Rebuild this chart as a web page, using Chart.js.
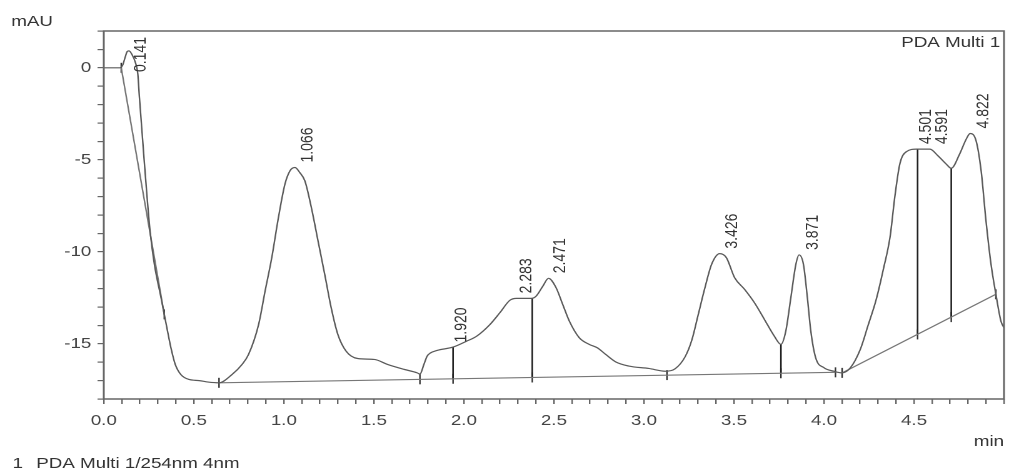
<!DOCTYPE html>
<html>
<head>
<meta charset="utf-8">
<script src="https://cdn.jsdelivr.net/npm/chart.js"></script>
<style>
  html, body { margin: 0; padding: 0; background: #fff; overflow: hidden; }
  #wrap {
    position: absolute; left: 0; top: 0;
    width: 811px; height: 472px;
    transform: scaleX(1.2503); transform-origin: 0 0;
  }
</style>
</head>
<body>
<div id="wrap"><canvas id="chrom"></canvas></div>
<script>
// trace (time in min, signal in mAU)
const traceTimes = [0.000, 0.090, 0.105, 0.118, 0.130, 0.140, 0.155, 0.175, 0.189, 0.198, 0.226, 0.257, 0.281, 0.318, 0.336, 0.354, 0.373, 0.397, 0.428, 0.474, 0.530, 0.580, 0.640,
  0.712, 0.768, 0.804, 0.860, 0.896, 0.933, 0.970, 1.006, 1.034, 1.062, 1.089, 1.117, 1.153, 1.190, 1.227, 1.263, 1.300, 1.346, 1.410, 1.502, 1.576, 1.668, 1.741, 1.756,
  1.778, 1.796, 1.814, 1.851, 1.940, 2.017, 2.072, 2.145, 2.200, 2.255, 2.292, 2.375, 2.402, 2.439, 2.470, 2.512, 2.549, 2.586, 2.641, 2.696, 2.742, 2.788, 2.843, 2.916,
  3.027, 3.118, 3.174, 3.229, 3.266, 3.302, 3.339, 3.376, 3.421, 3.458, 3.504, 3.559, 3.614, 3.669, 3.724, 3.761, 3.788, 3.816, 3.844, 3.862, 3.886, 3.908, 3.927, 3.954,
  4.000, 4.055, 4.101, 4.147, 4.202, 4.245, 4.290, 4.331, 4.367, 4.395, 4.422, 4.459, 4.514, 4.588, 4.634, 4.680, 4.707, 4.753, 4.790, 4.812, 4.845, 4.873, 4.900, 4.928,
  4.955, 4.983, 5.000];
const traceValues = [0.00, 0.00, 0.15, 0.55, 0.88, 0.92, 0.75, 0.30, -0.34, -1.62, -5.24, -8.87, -10.68, -12.50, -13.40, -14.31, -15.22, -16.12, -16.67, -16.94, -17.00, -17.08, -17.12,
  -16.67, -16.12, -15.58, -13.95, -12.13, -10.32, -8.14, -6.33, -5.60, -5.42, -5.70, -6.15, -7.60, -9.41, -11.22, -13.04, -14.49, -15.40, -15.80, -15.85, -16.12, -16.39, -16.58, -16.65,
  -16.12, -15.67, -15.50, -15.36, -15.18, -14.85, -14.58, -13.95, -13.31, -12.64, -12.53, -12.53, -12.40, -11.86, -11.44, -11.95, -12.86, -13.77, -14.67, -15.03, -15.22, -15.58, -15.98, -16.21,
  -16.34, -16.49, -16.35, -15.70, -14.80, -13.40, -11.95, -10.68, -10.10, -10.32, -11.41, -12.04, -12.77, -13.67, -14.58, -15.03, -14.31, -12.50, -10.68, -10.17, -10.68, -12.50, -14.31, -15.76,
  -16.30, -16.49, -16.58, -16.30, -15.30, -14.00, -12.60, -10.90, -9.20, -6.90, -5.20, -4.55, -4.42, -4.42, -4.79, -5.24, -5.46, -4.70, -3.88, -3.57, -3.97, -5.60, -8.32, -10.68,
  -12.31, -13.77, -14.13];

// integration baselines
const baseStart = [0.097, 0.640, 4.101];
const baseStartVal = [0.00, -17.12, -16.58];
const baseEnd = [0.336, 4.064, 4.955];
const baseEndVal = [-13.40, -16.55, -12.31];

// perpendicular drop lines
const dropTimes = [1.940, 2.380, 3.761, 4.520, 4.707];
const dropTop = [-15.18, -12.53, -15.03, -4.42, -5.46];
const dropBottom = [-16.90, -16.83, -16.60, -14.49, -13.55];

// peak start / end marks
const markTimes = [0.097, 0.336, 0.640, 1.756, 1.940, 2.380, 3.128, 3.761, 4.064, 4.101, 4.520, 4.707, 4.955];
const markValues = [0.00, -13.40, -17.12, -16.93, -16.90, -16.83, -16.70, -16.60, -16.55, -16.58, -14.49, -13.55, -12.31];

// retention time labels
const peakTimes = [0.141, 1.066, 1.920, 2.283, 2.471, 3.426, 3.871, 4.501, 4.591, 4.822];
const peakHeights = [0.92, -5.42, -15.20, -12.53, -11.44, -10.10, -10.17, -4.42, -4.42, -3.57];
const peakLabels = ['0.141', '1.066', '1.920', '2.283', '2.471', '3.426', '3.871', '4.501', '4.591', '4.822'];

const FONT = '"Liberation Sans", Arial, sans-serif';
Chart.defaults.font.family = FONT;

const traceData = traceTimes.map((t, i) => ({ x: t, y: traceValues[i] }));

const baseData = [];
baseStart.forEach((t, i) => {
    baseData.push({ x: t, y: baseStartVal[i] });
    baseData.push({ x: baseEnd[i], y: baseEndVal[i] });
    baseData.push({ x: baseEnd[i], y: null });
});

const dropData = [];
dropTimes.forEach((t, i) => {
    dropData.push({ x: t, y: dropTop[i] });
    dropData.push({ x: t, y: dropBottom[i] });
    dropData.push({ x: t, y: null });
});

const markData = markTimes.map((t, i) => ({ x: t, y: markValues[i] }));

// box, captions and rotated peak labels
const decorations = {
    id: 'decorations',
    afterDraw(chart) {
        const ctx = chart.ctx;
        const a = chart.chartArea;
        const xs = chart.scales.x, ys = chart.scales.y;
        ctx.save();
        ctx.strokeStyle = '#666';
        ctx.lineWidth = 1.5;
        ctx.strokeRect(a.left, a.top, a.right - a.left, a.bottom - a.top);

        ctx.fillStyle = '#333';
        ctx.font = '15px ' + FONT;
        ctx.textBaseline = 'middle';
        ctx.textAlign = 'left';
        ctx.fillText('mAU', 9, 22);
        ctx.fillText('1', 10, 464);
        ctx.fillText('PDA Multi 1/254nm 4nm', 29, 464);
        ctx.textAlign = 'right';
        ctx.fillText('PDA Multi 1', a.right - 3, 43);
        ctx.fillText('min', a.right, 442);

        ctx.font = '14px ' + FONT;
        ctx.textAlign = 'left';
        peakTimes.forEach((t, i) => {
            const px = xs.getPixelForValue(t) + 9.5;
            let py = ys.getPixelForValue(peakHeights[i]) - 5;
            const len = ctx.measureText(peakLabels[i]).width;
            if (py - len < a.top + 6) py = a.top + 6 + len;
            ctx.save();
            ctx.translate(px, py);
            ctx.rotate(-Math.PI / 2);
            ctx.fillText(peakLabels[i], 0, 0);
            ctx.restore();
        });
        ctx.restore();
    }
};

new Chart(document.getElementById('chrom'), {
    type: 'line',
    data: {
        datasets: [
            { data: traceData, borderColor: '#5a5a5a', borderWidth: 1.2, pointRadius: 0, cubicInterpolationMode: 'monotone' },
            { data: baseData, borderColor: '#777', borderWidth: 1.2, pointRadius: 0, spanGaps: false },
            { data: dropData, borderColor: '#222', borderWidth: 1.3, pointRadius: 0, spanGaps: false },
            { data: markData, showLine: false, pointStyle: 'line', rotation: 90, radius: 5, borderColor: '#333', borderWidth: 1.2 }
        ]
    },
    options: {
        responsive: true,
        maintainAspectRatio: false,
        animation: false,
        devicePixelRatio: 2,
        layout: { padding: { top: 31, right: 1.5, bottom: 0, left: 0 } },
        plugins: { legend: { display: false }, tooltip: { enabled: false } },
        scales: {
            x: {
                type: 'linear', min: 0, max: 5,
                afterFit(s) { s.height = 73; },
                border: { display: false },
                grid: { drawOnChartArea: false, drawTicks: true, tickLength: 5, color: '#666', lineWidth: 1.2 },
                ticks: {
                    stepSize: 0.1, autoSkip: false, maxTicksLimit: 100, maxRotation: 0, padding: 8,
                    color: '#444', font: { size: 15 },
                    callback(v) {
                        const r = Math.round(v * 10);
                        return (r % 5 === 0 && r < 50) ? (r / 10).toFixed(1) : '';
                    }
                }
            },
            y: {
                type: 'linear', min: -18, max: 2,
                afterFit(s) { s.width = 83; },
                border: { display: false },
                grid: { drawOnChartArea: false, drawTicks: true, tickLength: 5, color: '#666', lineWidth: 1.2 },
                ticks: {
                    stepSize: 1, autoSkip: false, maxTicksLimit: 100, padding: 5,
                    color: '#444', font: { size: 15 },
                    callback(v) {
                        const r = Math.round(v);
                        return (r % 5 === 0 && r <= 0) ? String(r) : '';
                    }
                }
            }
        }
    },
    plugins: [decorations]
});
</script>
</body>
</html>
